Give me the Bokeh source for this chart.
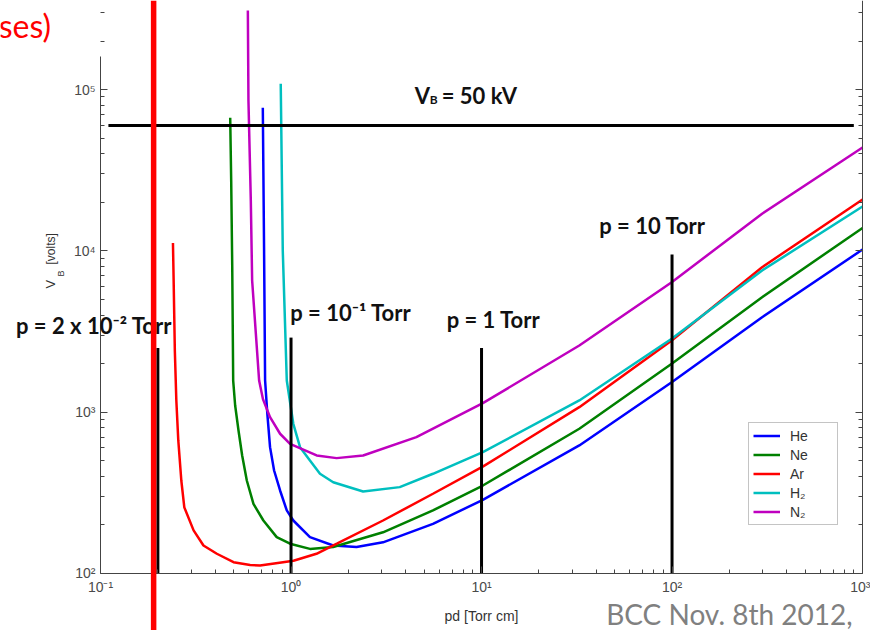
import math
from bokeh.plotting import figure
from bokeh.models import (LogAxis, FixedTicker, Label, Legend, LegendItem,
                          Range1d, Span, LogScale)
from bokeh.embed import file_html
from bokeh.resources import INLINE

# ---- data (pd in Torr cm, V in volts) ----
he_pd = [0.711, 0.722, 0.731, 0.751, 0.776, 0.815, 0.876, 0.950, 1.028, 1.257,
         1.665, 2.208, 3.04, 5.56, 10.16, 32.6, 99.6, 297, 1000]
he_v = [77100, 10060, 1572, 977, 607, 435, 327, 246, 213, 168,
        149, 146, 156, 203, 286, 622, 1535, 3882, 10200]

ne_pd = [0.4794, 0.4852, 0.4914, 0.497, 0.509, 0.530, 0.554, 0.586, 0.635, 0.716,
         0.841, 0.988, 1.257, 1.665, 3.04, 5.56, 10.16, 32.6, 99.6, 297, 1000]
ne_v = [66900, 27300, 7890, 1570, 1100, 770, 539, 377, 270, 213,
        168, 153, 142, 146, 180, 246, 351, 789, 1995, 5164, 13870]

ar_pd = [0.240, 0.2420, 0.2455, 0.250, 0.256, 0.2655, 0.2753, 0.308, 0.347, 0.408,
         0.499, 0.610, 0.688, 0.908, 1.03, 1.36, 1.74, 3.04, 5.56, 10.2,
         32.6, 99.6, 297, 1000]
ar_v = [11200, 6550, 2413, 1182, 668, 377, 257, 185, 149, 132.5,
        117.5, 113, 112, 117.5, 120, 132.5, 153, 213, 312, 461,
        1074, 2783, 7925, 20830]

h2_pd = [0.883, 0.905, 0.950, 1.028, 1.115, 1.257, 1.419, 1.665, 2.39, 3.72,
         5.56, 10.16, 32.6, 99.6, 297, 1000]
h2_v = [108600, 10060, 1572, 847, 607, 502, 415, 368, 322, 343,
        415, 565, 1182, 2851, 7558, 18840]

n2_pd = [0.5934, 0.5977, 0.615, 0.625, 0.680, 0.713, 0.776, 0.876, 0.988, 1.363,
         1.735, 2.39, 4.55, 10.16, 32.6, 99.6, 297, 1000]
n2_v = [309000, 85600, 20500, 6550, 1572, 1200, 931, 735, 637, 539,
        519, 539, 700, 1137, 2591, 6397, 16980, 43750]

series_names = ["He", "Ne", "Ar", "H₂", "N₂"]
series_colors = ["#0000ff", "#008000", "#ff0000", "#00bfbf", "#bf00bf"]

# pressure marker lines (d = 10 cm)
marker_pd = [0.2, 1, 10, 100]
marker_top = [2500, 2900, 2500, 9500]
marker_labels = ["p = 2 x 10⁻² Torr", "p = 10⁻¹ Torr", "p = 1 Torr", "p = 10 Torr"]
marker_label_x = [0.036, 0.99, 6.56, 41.5]
marker_label_y = [3450, 4140, 3750, 14340]

# breakdown voltage line
vb_pd = [0.11, 900]
vb_level = 60000
vb_label = ["V", "B", "= 50 kV"]

# axes
x_lo, x_hi = 0.1, 1000
y_lo, y_hi = 100, 3.568e5
y_left_top = 1.6e5
x_ticks = [0.1, 1, 10, 100, 1000]
x_tick_labels = ["10⁻¹", "10⁰", "10¹", "10²", "10³"]
y_ticks = [100, 1000, 10000, 100000]
y_tick_labels = ["10²", "10³", "10⁴", "10⁵"]
x_title = "pd [Torr cm]"
y_title = ["V", "B", "[volts]"]

# slide elements around the chart
slide_title_tail = "ses)"
slide_footer = "BCC Nov. 8th 2012,"
slide_marker_pd = 0.19

x_minor = [m * 10.0 ** e for e in range(-1, 3) for m in range(2, 10)]
y_minor = [m * 10.0 ** e for e in range(2, 6) for m in range(2, 10)]

# the frame covers the whole slide; axes are pinned at the chart's box
p = figure(x_axis_type=None, y_axis_type=None,
           x_range=Range1d(0.02985, 1101), y_range=Range1d(44.3, y_hi),
           width=870, height=630, min_border=0,
           output_backend="svg", toolbar_location=None)
p.x_scale = LogScale()
p.y_scale = LogScale()
p.xgrid.visible = False
p.ygrid.visible = False
p.outline_line_color = None
p.background_fill_color = "white"
p.border_fill_color = "white"

def style_axis(ax):
    ax.major_tick_in = 7
    ax.major_tick_out = 0
    ax.minor_tick_in = 4
    ax.minor_tick_out = 0
    ax.axis_line_color = "#444444"
    ax.major_tick_line_color = "#444444"
    ax.minor_tick_line_color = "#444444"
    ax.major_label_text_font = "Liberation Sans"
    ax.major_label_text_font_size = "14px"
    ax.major_label_text_color = "#4a4a4a"

xa = LogAxis(ticker=FixedTicker(ticks=x_ticks, minor_ticks=x_minor),
             fixed_location=y_lo, bounds=(x_lo, x_hi))
xa.major_label_overrides = dict(zip(x_ticks, x_tick_labels))
style_axis(xa)
xa.major_label_standoff = 6
xa.axis_label = x_title
xa.axis_label_text_font = "Liberation Sans"
xa.axis_label_text_font_size = "14px"
xa.axis_label_text_font_style = "normal"
xa.axis_label_text_color = "#333333"
xa.axis_label_standoff = 9
p.add_layout(xa, "below")

ya = LogAxis(ticker=FixedTicker(ticks=y_ticks, minor_ticks=y_minor),
             fixed_location=x_lo, bounds=(y_lo, y_left_top))
ya.major_label_overrides = dict(zip(y_ticks, y_tick_labels))
style_axis(ya)
ya.major_label_standoff = 5
p.add_layout(ya, "left")

ra = LogAxis(ticker=FixedTicker(ticks=y_ticks, minor_ticks=y_minor),
             fixed_location=x_hi, bounds=(y_lo, y_hi))
style_axis(ra)
ra.major_label_overrides = {t: "" for t in y_ticks}
ra.major_label_standoff = 0
p.add_layout(ra, "right")

# curves
renderers = []
for xs, ys, c in zip([he_pd, ne_pd, ar_pd, h2_pd, n2_pd],
                     [he_v, ne_v, ar_v, h2_v, n2_v], series_colors):
    renderers.append(p.line(xs, ys, line_color=c, line_width=2.5))

# markers and V_B line
p.segment(x0=marker_pd, y0=[y_lo] * len(marker_pd), x1=marker_pd, y1=marker_top,
          line_color="black", line_width=3)
p.line(vb_pd, [vb_level] * 2, line_color="black", line_width=3)

def bold_label(x, y, text, size="22px", x_offset=0):
    p.add_layout(Label(x=x, y=y, text=text, x_offset=x_offset,
                       text_font="Lato", text_font_style="bold",
                       text_font_size=size, text_color="#111111",
                       text_baseline="alphabetic", text_align="left"))

for lx, ly, t in zip(marker_label_x, marker_label_y, marker_labels):
    bold_label(lx, ly, t)

bold_label(4.46, 91800, vb_label[0])
bold_label(4.46, 86700, vb_label[1], size="12px", x_offset=15)
bold_label(4.46, 91800, vb_label[2], x_offset=27)

# y axis title with subscript (rotated)
for yv, txt, xo, fs in [(5850, y_title[0], -50, "13px"),
                        (6935, y_title[1], -40, "9px"),
                        (8235, y_title[2], -50, "12px")]:
    p.add_layout(Label(x=x_lo, y=yv, text=txt, x_offset=xo, angle=math.pi / 2,
                       text_font="Liberation Sans", text_font_size=fs,
                       text_color="#333333", text_baseline="alphabetic",
                       text_align="left"))

legend = Legend(items=[LegendItem(label=n, renderers=[r])
                       for n, r in zip(series_names, renderers)],
                location=(748, 105))
legend.border_line_color = "#8a8a8a"
legend.border_line_width = 1
legend.background_fill_color = "white"
legend.label_text_font = "Liberation Sans"
legend.label_text_font_size = "14px"
legend.label_text_color = "#333333"
legend.glyph_width = 27
legend.glyph_height = 17
legend.label_height = 17
legend.label_width = 43
legend.label_standoff = 10
legend.spacing = 2
legend.padding = 4
legend.margin = 0
p.add_layout(legend)

# slide overlay: cut title, footer, red vertical marker
p.add_layout(Label(x=0.0292, y=249500, text=slide_title_tail, text_font="Lato",
                   text_font_size="32px", text_color="#ff0000",
                   text_baseline="alphabetic"))
p.add_layout(Label(x=45.1, y=55.7, text=slide_footer, text_font="Lato",
                   text_font_size="28px", text_color="#808080",
                   text_baseline="alphabetic"))
p.add_layout(Span(location=slide_marker_pd, dimension="height",
                  line_color="#ff0000", line_width=5.5))

open("out.html", "w").write(file_html(p, INLINE))
